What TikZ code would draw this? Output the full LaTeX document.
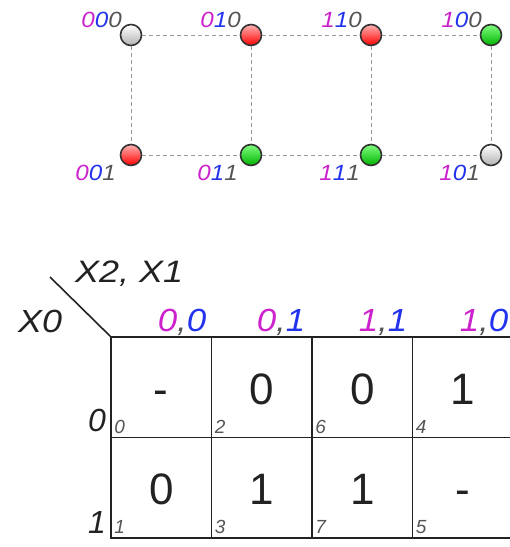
\documentclass[tikz,border=0pt]{standalone}
\usepackage{graphicx}
\usepackage{fontspec}
\setmainfont{Liberation Sans}
\definecolor{mag}{HTML}{CC22CC}
\definecolor{blu}{HTML}{2233EE}
\definecolor{dg}{HTML}{555555}
\definecolor{ink}{HTML}{222222}
\definecolor{edgegray}{HTML}{999999}
\newcommand{\bits}[3]{\scalebox{1.1}[1]{{\color{mag}#1}{\color{blu}#2}{\color{dg}#3}}}
\newcommand{\pair}[2]{\scalebox{1.09}[1]{{\color{mag}#1}{\color{dg},}{\color{blu}#2}}}
\begin{document}
\begin{tikzpicture}[x=1pt,y=-1pt,
  vert/.style={circle, draw=black!80, line width=1.6pt, minimum size=21pt, inner sep=0pt},
  gr/.style={vert, top color=white, bottom color=black!30},
  rd/.style={vert, top color=red!30!white, bottom color=red},
  gn/.style={vert, top color=green!50!white, bottom color=green!70!black},
  edge/.style={draw=edgegray, dashed, dash pattern=on 4pt off 3pt, line width=1pt},
  blab/.style={inner sep=0pt, font=\fontsize{22}{22}\selectfont\itshape},
  cell/.style={draw=ink, line width=1.6pt, minimum size=100.5pt, inner sep=0pt},
  val/.style={inner sep=0pt, text=ink, font=\fontsize{44}{44}\selectfont},
  idx/.style={inner sep=0pt, text=dg, font=\fontsize{19}{19}\selectfont\itshape},
  big/.style={inner sep=0pt, text=ink, font=\fontsize{32}{32}\selectfont\itshape}]
\useasboundingbox (0,0) rectangle (510,547);
% cube
\node[gr] (v000) at (131,35) {};
\node[rd] (v010) at (251,35) {};
\node[rd] (v110) at (371,35) {};
\node[gn] (v100) at (491,35) {};
\node[rd] (v001) at (131,155) {};
\node[gn] (v011) at (251,155) {};
\node[gn] (v111) at (371,155) {};
\node[gr] (v101) at (491,155) {};
\draw[edge] (v000) -- (v010);
\draw[edge] (v010) -- (v110);
\draw[edge] (v110) -- (v100);
\draw[edge] (v001) -- (v011);
\draw[edge] (v011) -- (v111);
\draw[edge] (v111) -- (v101);
\draw[edge] (v000) -- (v001);
\draw[edge] (v010) -- (v011);
\draw[edge] (v110) -- (v111);
\draw[edge] (v100) -- (v101);
\node[blab, anchor=base east] (l000) at (122,27) {\bits000};
\node[blab, anchor=base east] (l010) at (241,27) {\bits010};
\node[blab, anchor=base east] (l110) at (362,27) {\bits110};
\node[blab, anchor=base east] (l100) at (482,27) {\bits100};
\node[blab, anchor=base east] (l001) at (116,180) {\bits001};
\node[blab, anchor=base east] (l011) at (238,180) {\bits011};
\node[blab, anchor=base east] (l111) at (360,180) {\bits111};
\node[blab, anchor=base east] (l101) at (480,180) {\bits101};
% K-map
\node[cell] (c0) at (161.25,387.25) {};
\node[cell] (c2) at (261.75,387.25) {};
\node[cell] (c6) at (362.25,387.25) {};
\node[cell] (c4) at (462.75,387.25) {};
\node[cell] (c1) at (161.25,487.75) {};
\node[cell] (c3) at (261.75,487.75) {};
\node[cell] (c7) at (362.25,487.75) {};
\node[cell] (c5) at (462.75,487.75) {};
\coordinate (d1) at (50,277);
\draw[ink, line width=1.6pt] (d1) -- (c0.north west);
\foreach \n/\v in {0/-,2/0,6/0,4/1,1/0,3/1,7/1,5/-}{
  \node[val, anchor=base] (v\n) at ([yshift=-17pt]c\n.center) {\v};
  \node[idx, anchor=base west] (i\n) at ([xshift=4pt,yshift=5pt]c\n.south west) {\n};
}
\node[big, anchor=base west] (x21) at (75,282) {\fontsize{31}{31}\selectfont\scalebox{1.16}[1]{X2, X1}};
\node[big, anchor=base west] (x0) at (18,332) {\scalebox{1.12}[1]{X0}};
\node[big, anchor=base] (h00) at (182,331) {\pair00};
\node[big, anchor=base] (h01) at (281,331) {\pair01};
\node[big, anchor=base] (h11) at (383,331) {\pair11};
\node[big, anchor=base] (h10) at (484,331) {\pair10};
\node[big, anchor=base east] (r0) at (106,431) {0};
\node[big, anchor=base east] (r1) at (106,533) {1};
\end{tikzpicture}
\end{document}
